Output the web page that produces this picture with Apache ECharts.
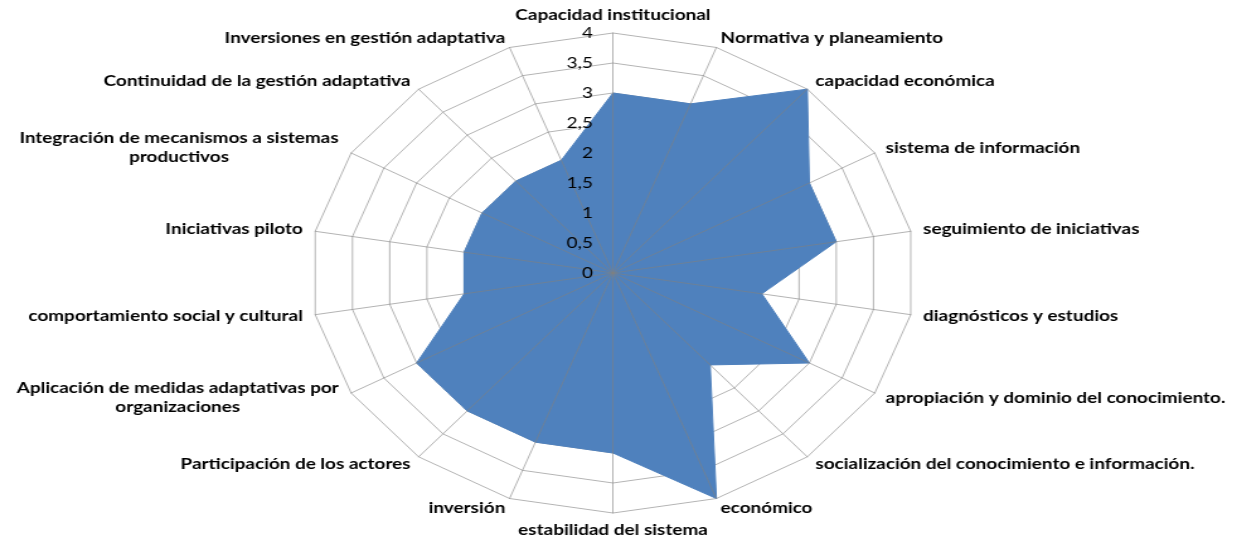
<!DOCTYPE html>
<html>
<head>
<meta charset="utf-8">
<script src="https://cdn.jsdelivr.net/npm/echarts@6/dist/echarts.min.js"></script>
<style>
  html, body { margin: 0; padding: 0; background: #fff; overflow: hidden; }
  /* the reference is stretched horizontally, so draw narrower and scale */
  #chart { width: 982px; height: 544px; transform: scaleX(1.2597); transform-origin: 0 0; }
</style>
</head>
<body>
<div id="chart"></div>
<script>
// clockwise from the top
var names = [
  'Capacidad institucional',
  'Normativa y planeamiento',
  'capacidad económica',
  'sistema de información',
  'seguimiento de iniciativas',
  'diagnósticos y estudios',
  'apropiación y dominio del conocimiento.',
  'socialización del conocimiento e información.',
  'económico',
  'estabilidad del sistema',
  'inversión',
  'Participación de los actores',
  'Aplicación de medidas adaptativas por\norganizaciones',
  'comportamiento social y cultural',
  'Iniciativas piloto',
  'Integración de mecanismos a sistemas\nproductivos',
  'Continuidad de la gestión adaptativa',
  'Inversiones en gestión adaptativa'
]
var values = [3, 3, 4, 3, 3, 2, 3, 2, 4, 3, 3, 3, 3, 2, 2, 2, 2, 2]
var axisMin = 0
var axisMax = 4
var tickCount = 8

// echarts lays indicators out counter-clockwise, so reverse all but the first
var order = [0]
for (var k = names.length - 1; k > 0; k--) order.push(k)

var ctx = document.createElement('canvas').getContext('2d')
ctx.font = 'bold 15px Lato'

var rich = {}
function nameFormatter (name) {
  if (name.indexOf('\n') < 0) return name
  var lines = name.split('\n')
  var w = 0
  lines.forEach(function (l) { w = Math.max(w, ctx.measureText(l).width) })
  var key = 'c' + Math.round(w)
  rich[key] = { width: Math.ceil(w) + 2, align: 'center', fontFamily: 'Lato', fontWeight: 'bold', fontSize: 15, color: '#000', lineHeight: 19 }
  return lines.map(function (l) { return '{' + key + '|' + l + '}' }).join('\n')
}
names.forEach(nameFormatter)

var indicator = order.map(function (i) {
  return { name: names[i], min: axisMin, max: axisMax }
})
// top layer: spokes + tick labels on the first axis only
var topIndicator = order.map(function (i) {
  var ind = { name: names[i], min: axisMin, max: axisMax }
  if (i === 0) ind.axisLabel = { show: true }
  return ind
})

var chart = echarts.init(document.getElementById('chart'))
var geom = { center: [486.6, 273], radius: 240, startAngle: 90, shape: 'polygon', splitNumber: tickCount }

chart.setOption({
  animation: false,
  radar: [
    Object.assign({}, geom, {
      indicator: indicator,
      nameGap: 10,
      axisName: {
        color: '#000',
        fontFamily: 'Lato',
        fontWeight: 'bold',
        fontSize: 15,
        formatter: nameFormatter,
        rich: rich
      },
      axisLabel: { show: false },
      splitLine: { lineStyle: { color: '#b4b4b4', width: 1 } },
      splitArea: { show: false },
      axisLine: { show: false },
      axisTick: { show: false }
    }),
    Object.assign({}, geom, {
      z: 5,
      indicator: topIndicator,
      axisName: { show: false },
      axisLabel: {
        show: false,
        color: '#000',
        fontFamily: 'Lato',
        fontSize: 15,
        margin: 16,
        formatter: function (v) { return String(v).replace('.', ',') }
      },
      splitLine: { show: false },
      splitArea: { show: false },
      axisLine: { lineStyle: { color: 'rgba(128,128,128,0.6)', width: 1 } },
      axisTick: { show: false }
    })
  ],
  series: [{
    type: 'radar',
    radarIndex: 0,
    symbol: 'none',
    lineStyle: { color: '#4f81bd', width: 1 },
    areaStyle: { color: '#4f81bd', opacity: 1 },
    data: [{ value: order.map(function (i) { return values[i] }) }]
  }]
})
</script>
</body>
</html>
